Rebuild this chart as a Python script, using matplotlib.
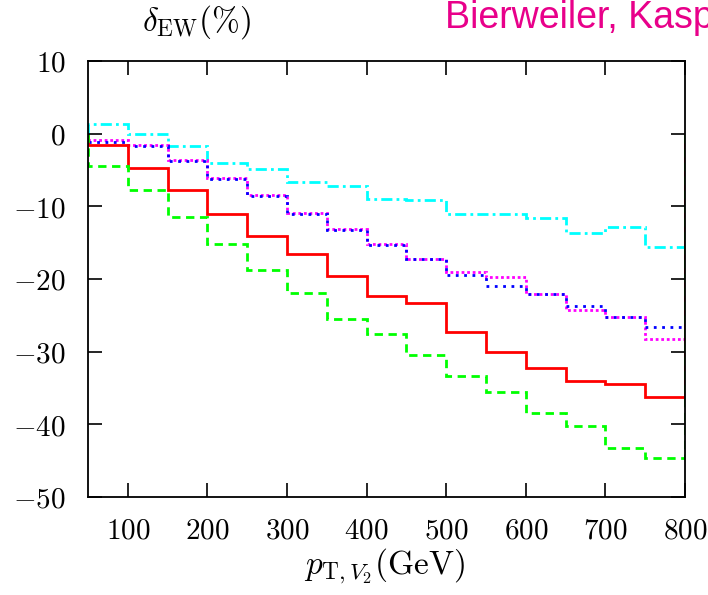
import matplotlib
matplotlib.use("Agg")
import matplotlib.pyplot as plt

edges = [50, 100, 150, 200, 250, 300, 350, 400, 450, 500, 550, 600, 650, 700, 750, 800]
cyan_vals = [1.3, -0.1, -1.7, -4.0, -4.9, -6.6, -7.2, -9.0, -9.1, -11.1, -11.0, -11.6, -13.7, -12.9, -15.6]
blue_vals = [-1.1, -1.7, -3.7, -6.2, -8.6, -11.0, -13.2, -15.3, -17.3, -19.5, -20.9, -22.0, -23.7, -25.2, -26.6]
magenta_vals = [-0.9, -1.6, -3.6, -6.1, -8.5, -10.9, -13.1, -15.2, -17.2, -19.1, -19.7, -22.0, -24.2, -25.2, -28.2]
red_vals = [-1.6, -4.7, -7.75, -11.1, -14.1, -16.6, -19.6, -22.4, -23.3, -27.3, -30.0, -32.2, -34.0, -34.5, -36.3]
green_vals = [-4.5, -7.75, -11.4, -15.2, -18.7, -21.9, -25.5, -27.5, -30.5, -33.3, -35.6, -38.4, -40.2, -43.2, -44.6]

xticks = [100, 200, 300, 400, 500, 600, 700, 800]
yticks = [10, 0, -10, -20, -30, -40, -50]

plt.rcParams['mathtext.fontset'] = 'cm'
plt.rcParams['font.family'] = ['DejaVu Serif']

fig = plt.figure(figsize=(7.08, 5.95), dpi=100)
ax = fig.add_axes([88/708, 1-497/595, (685-88)/708, (497-61)/595])

lw = 2.0
ax.stairs(cyan_vals, edges, color='#00FFFF', lw=lw, linestyle=(0, (4, 1.5, 1, 1.5)))
ax.stairs(magenta_vals, edges, color='#FF00FF', lw=lw, linestyle=(0, (1, 1)))
ax.stairs(blue_vals, edges, color='#0000FF', lw=lw, linestyle=(0, (1, 2)))
ax.stairs(red_vals, edges, color='#FF0000', lw=lw, linestyle='-')
ax.stairs(green_vals, edges, color='#00FF00', lw=lw, linestyle=(0, (3, 2)))

ax.set_xlim(50, 800)
ax.set_ylim(-50, 10)
ax.set_xticks(xticks)
ax.set_yticks(yticks)
ax.set_xticklabels([r'$%d$' % v for v in xticks], fontsize=21)
ax.set_yticklabels([r'$%d$' % v for v in yticks], fontsize=21)
ax.tick_params(direction='in', length=10, width=1.2, top=True, right=True)
ax.tick_params(axis='x', pad=14)
ax.tick_params(axis='y', pad=16)
for s in ax.spines.values():
    s.set_linewidth(1.3)

fig.text(197/708, 1-22/595, r'$\delta_{\rm EW}(\%)$', fontsize=24, ha='center', va='center')
fig.text(385/708, 1-566/595, r'$p_{{\rm T},V_2}({\rm GeV})$', fontsize=24, ha='center', va='center')
fig.text(445/708, 1-28/595, 'Bierweiler, Kasprzik, Kühn', fontsize=27, color='#E8008A',
         family=['Liberation Sans'], ha='left', va='baseline')

fig.savefig('out.png', dpi=100)
